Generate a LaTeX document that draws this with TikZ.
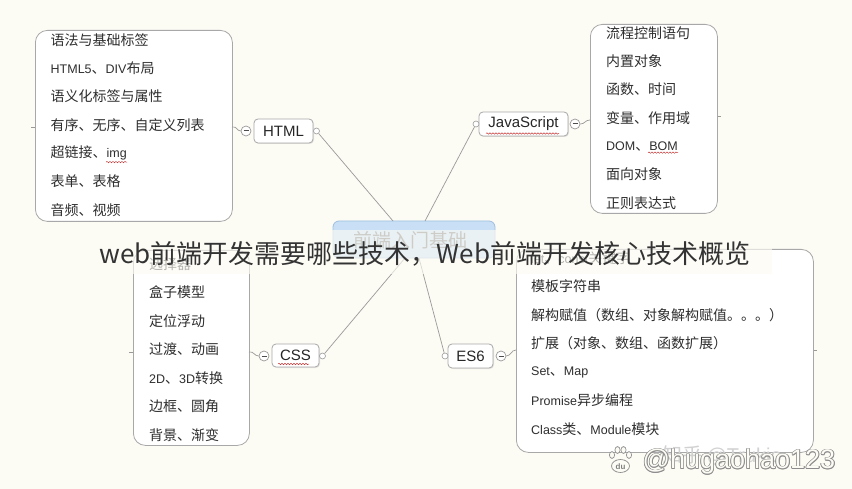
\documentclass[tikz,border=0pt]{standalone}
\usepackage{fontspec}
\setmainfont{Noto Sans CJK SC}
\newfontfamily\lat{Liberation Sans}
\usetikzlibrary{decorations.pathmorphing,shadows,calc}
\definecolor{bg}{HTML}{FCFBF4}
\definecolor{boxgray}{HTML}{A8A8A8}
\definecolor{linegray}{HTML}{9A9A9A}
\definecolor{itemc}{HTML}{2E2E2E}
\definecolor{rootfill}{HTML}{C8DFF5}
\definecolor{rootdraw}{HTML}{9FC0E0}
\newcommand{\lt}[1]{{\lat\fontsize{12.5}{12.5}\selectfont #1}}
\tikzset{
  listbox/.style={draw=boxgray, fill=white, rounded corners=12pt, line width=0.8pt, anchor=north west, inner sep=0pt},
  item/.style={anchor=west, inner sep=0pt, font=\fontsize{14}{14}\selectfont, text=itemc},
  topic/.style={draw=boxgray, fill=white, rounded corners=4pt, inner sep=0pt, line width=0.8pt,
     font=\lat\fontsize{15}{15}\selectfont, text=black!85,
     drop shadow={opacity=0.18, shadow xshift=1pt, shadow yshift=-1pt}},
  minusc/.style={circle, draw=linegray, fill=white, minimum size=10pt, inner sep=0pt, line width=0.7pt},
  knob/.style={circle, draw=linegray, fill=white, minimum size=6pt, inner sep=0pt, line width=0.6pt},
  conn/.style={draw=linegray, line width=0.7pt},
  squig/.style={decorate, decoration={snake, segment length=3pt, amplitude=0.7pt}, draw=red!55!gray, line width=0.5pt},
  wm/.style={font=\lat\fontsize{27}{27}\selectfont, inner sep=0pt}
}
\begin{document}
\begin{tikzpicture}[x=1pt,y=-1pt]
\path[fill=bg] (0,0) rectangle (852,489);
\useasboundingbox (0,0) rectangle (852,489);

% ---------- centre ----------
\node[draw=rootdraw, fill=rootfill, rounded corners=6pt, minimum width=162pt, minimum height=37pt, inner sep=0pt, line width=0.8pt] (root) at (414,239.5) {};
\node[font=\fontsize{19}{19}\selectfont, text=black!55] (roottxt) at (410,240) {前端入门基础};
\coordinate (rH) at (393,221);
\coordinate (rJ) at (425,221);
\coordinate (rC) at (405,258);
\coordinate (rE) at (419,258);

% ---------- topic nodes ----------
\node[topic, minimum width=59pt, minimum height=24pt] (html) at (283.5,131) {HTML};
\node[topic, minimum width=89pt, minimum height=24pt] (js) at (523.5,124) {JavaScript};
\node[topic, minimum width=47pt, minimum height=23pt] (css) at (295.5,355.5) {CSS};
\node[topic, minimum width=45pt, minimum height=24pt] (es) at (470.5,356) {ES6};

\node[knob] (kH) at (316.5,131) {};
\node[knob] (kJ) at (476,124) {};
\node[knob] (kC) at (322.5,356) {};
\node[knob] (kE) at (445,356) {};

\draw[conn] (kH) -- (rH);
\draw[conn] (kJ) -- (rJ);
\draw[conn] (kC) -- (rC);
\draw[conn] (kE) -- (rE);

\node[minusc] (mH) at (246,131) {};
\node[minusc] (mJ) at (575,124) {};
\node[minusc] (mC) at (264,356) {};
\node[minusc] (mE) at (501,356) {};
\foreach \m in {mH,mJ,mC,mE}{\draw[line width=1pt, black!70] ($(\m)+(-2.5,0)$) -- ($(\m)+(2.5,0)$);}

% ---------- list boxes ----------
\node[listbox, minimum width=197pt, minimum height=191pt] (hbox) at (35,30) {};
\node[listbox, minimum width=127pt, minimum height=189pt] (jbox) at (590,24) {};
\node[listbox, minimum width=116pt, minimum height=195pt] (cbox) at (133,250) {};
\node[listbox, minimum width=297pt, minimum height=203pt] (ebox) at (516,249) {};

% box -> minus connectors
\coordinate (hR) at (232,127);
\coordinate (jL) at (590,120);
\coordinate (cR) at (249,352);
\coordinate (eL) at (516,350);
\draw[conn] (hR) .. controls (237,126) and (237,131) .. (mH.west);
\draw[conn] (mJ.east) .. controls (585,124) and (585,120) .. (jL);
\draw[conn] (cR) .. controls (254,351) and (254,356) .. (mC.west);
\draw[conn] (mE.east) .. controls (511,356) and (511,350) .. (eL);
% collapsed ticks
\coordinate (hT) at (31,127);
\coordinate (jT) at (721,116);
\coordinate (cT) at (129,352);
\coordinate (eT) at (817,350);
\draw[conn] (hbox.west |- hT) -- (hT);
\draw[conn] (jbox.east |- jT) -- (jT);
\draw[conn] (cbox.west |- cT) -- (cT);
\draw[conn] (ebox.east |- eT) -- (eT);

% ---------- HTML items ----------
\node[item] (h1) at (50.5,40) {语法与基础标签};
\node[item] (h2) at (50.5,68.3) {\lt{HTML5}、\lt{DIV}布局};
\node[item] (h3) at (50.5,96.6) {语义化标签与属性};
\node[item] (h4) at (50.5,124.9) {有序、无序、自定义列表};
\node[item] (h5) at (50.5,153.2) {超链接、\lt{img}};
\node[item] (h6) at (50.5,181.5) {表单、表格};
\node[item] (h7) at (50.5,209.8) {音频、视频};

% ---------- JS items ----------
\node[item] (j1) at (606,33) {流程控制语句};
\node[item] (j2) at (606,61.3) {内置对象};
\node[item] (j3) at (606,89.6) {函数、时间};
\node[item] (j4) at (606,117.9) {变量、作用域};
\node[item] (j5) at (606,146.2) {\lt{DOM}、\lt{BOM}};
\node[item] (j6) at (606,174.5) {面向对象};
\node[item] (j7) at (606,202.8) {正则表达式};

% ---------- CSS items ----------
\node[item] (c1) at (149,264) {选择器};
\node[item] (c2) at (149,292.5) {盒子模型};
\node[item] (c3) at (149,321) {定位浮动};
\node[item] (c4) at (149,349.5) {过渡、动画};
\node[item] (c5) at (149,378) {\lt{2D}、\lt{3D}转换};
\node[item] (c6) at (149,406.5) {边框、圆角};
\node[item] (c7) at (149,435) {背景、渐变};

% ---------- ES6 items ----------
\node[item] (e1) at (531,258) {\lt{let}、\lt{const}关键字};
\node[item] (e2) at (531,286.5) {模板字符串};
\node[item] (e3) at (531,315) {解构赋值（数组、对象解构赋值。。。）};
\node[item] (e4) at (531,343.5) {扩展（对象、数组、函数扩展）};
\node[item] (e5) at (531,372) {\lt{Set}、\lt{Map}};
\node[item] (e6) at (531,400.5) {\lt{Promise}异步编程};
\node[item] (e7) at (531,429) {\lt{Class}类、\lt{Module}模块};

% spell-check squiggles
\draw[squig] (486,133.5) -- (559,133.5);
\draw[squig] (278,364) -- (309,364);
\draw[squig] ($(h5.south east)+(-21,1.5)$) -- ($(h5.south east)+(0,1.5)$);
\draw[squig] ($(j5.south east)+(-30,1.5)$) -- ($(j5.south east)+(0,1.5)$);

% ---------- title band ----------
\fill[bg, opacity=0.66] (92,230) rectangle (772,274);
\node[font=\fontsize{26}{26}\selectfont, text=black!80, inner sep=0pt] (title) at (425,254) {web前端开发需要哪些技术，Web前端开发核心技术概览};

% ---------- watermark ----------
\node[font=\fontsize{20}{20}\selectfont, text=black!18, inner sep=0pt] (wz) at (722,455) {知乎 \lt{\fontsize{20}{20}\selectfont @Trukio}};
\foreach \dx/\dy in {-0.8/0,0.8/0,0/-0.8,0/0.8,-0.6/-0.6,0.6/0.6,-0.6/0.6,0.6/-0.6}{
  \node[wm, text=black!45] at (739+\dx,462+\dy) {@hugaohao123};}
\node[wm, text=bg] (wmark) at (739,462) {@hugaohao123};
% paw
\begin{scope}[draw=black!45, line width=0.7pt, fill=bg]
  \filldraw (612,455) ellipse (2.6pt and 3.4pt);
  \filldraw (617.5,450) ellipse (2.6pt and 3.4pt);
  \filldraw (623.5,450) ellipse (2.6pt and 3.4pt);
  \filldraw (629,455) ellipse (2.6pt and 3.4pt);
  \filldraw (620.5,466) ellipse (9pt and 6.5pt);
\end{scope}
\node[font=\lat\bfseries\fontsize{8}{8}\selectfont, text=black!50, inner sep=0pt] (du) at (620.5,467) {du};
\end{tikzpicture}
\end{document}
